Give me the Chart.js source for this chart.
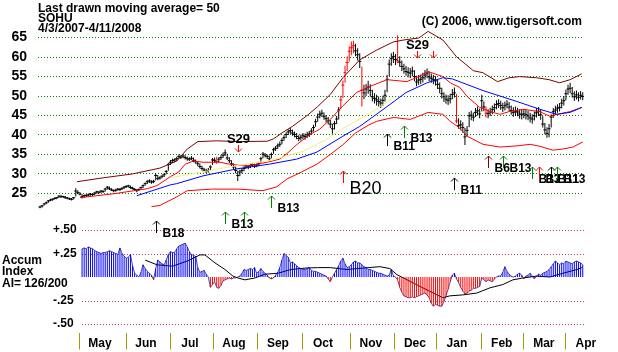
<!DOCTYPE html>
<html>
<head>
<meta charset="utf-8">
<script src="https://cdn.jsdelivr.net/npm/chart.js@4.4.0/dist/chart.umd.min.js"></script>
<style>
  body { margin: 0; background: #fff; }
  #wrap { width: 618px; height: 352px; }
</style>
</head>
<body>
<div id="wrap"><canvas id="sohuChart" width="618" height="352"></canvas></div>
<script>
// SOHU daily bars, 4/3/2007 - 4/11/2008, one value per trading day (index 0..258)
const closes = [
  21.5, 21.8, 22.3, 22.6, 23.1, 23.3, 23.5, 23.7, 23.9, 24.3,
  24.1, 24.2, 23.9, 23.8, 23.6, 23.5, 23.9, 25.6, 25.2, 24.8,
  24.2, 24.4, 24.5, 24.6, 24.8, 24.7, 25.1, 25.4, 25.3, 25.6,
  25.5, 26.1, 26.6, 26.2, 25.9, 25.7, 25.8, 26.1, 26.0, 26.3,
  26.6, 26.8, 26.9, 26.5, 26.3, 26.0, 25.7, 26.0, 26.5, 27.0,
  27.5, 28.0, 28.2, 27.9, 28.1, 29.6, 28.8, 29.0, 29.4, 29.8,
  30.6, 32.4, 33.0, 33.4, 33.6, 33.9, 34.5, 34.3, 34.6, 34.2,
  33.9, 33.8, 34.0, 33.5, 33.1, 32.6, 31.9, 31.4, 31.0, 30.7,
  30.9, 31.8, 33.6, 33.5, 33.2, 33.8, 34.2, 34.8, 35.4, 34.1,
  33.4, 32.6, 31.8, 30.9, 29.6, 30.5, 30.9, 31.4, 32.0, 31.8,
  32.1, 32.4, 32.0, 32.3, 32.6, 33.9, 35.1, 34.8, 34.5, 33.9,
  35.0, 36.2, 36.6, 37.2, 37.6, 38.6, 39.3, 40.1, 40.8, 41.1,
  40.5, 40.1, 39.6, 39.1, 39.4, 39.8, 39.6, 40.0, 40.3, 41.0,
  41.9, 43.4, 44.6, 45.3, 45.6, 44.7, 44.2, 43.6, 42.8, 41.6,
  42.9, 44.1, 46.4, 49.0, 52.8, 56.0, 58.6, 61.5, 62.4, 62.9,
  61.6, 60.6, 58.9, 51.5, 50.8, 51.8, 52.3, 51.4, 49.8, 49.4,
  49.0, 48.6, 48.2, 48.9, 50.2, 54.3, 58.2, 59.6, 60.1, 59.4,
  59.0, 58.7, 57.6, 57.0, 56.3, 56.1, 55.9, 56.4, 55.0, 53.6,
  54.1, 54.3, 54.7, 55.4, 55.9, 54.9, 54.6, 54.2, 53.9, 53.0,
  52.0, 50.6, 49.8, 49.2, 48.9, 49.3, 50.4, 50.8, 43.6, 42.4,
  42.6, 41.9, 39.5, 41.2, 44.9, 45.1, 44.6, 45.8, 46.2, 45.4,
  48.8, 47.2, 45.6, 45.5, 45.9, 46.5, 47.0, 47.8, 48.1, 47.6,
  47.0, 47.5, 47.9, 47.2, 46.3, 45.8, 46.1, 45.9, 45.4, 45.2,
  45.4, 45.2, 44.9, 44.4, 44.1, 44.9, 45.7, 46.1, 45.2, 42.8,
  41.3, 40.4, 41.6, 44.6, 46.0, 46.4, 46.9, 47.1, 48.2, 48.8,
  50.6, 51.8, 52.0, 50.6, 49.8, 50.3, 49.7, 50.2, 49.9
];
const highs = [
  21.8, 22.0, 22.5, 22.9, 23.3, 23.6, 23.7, 24.0, 24.1, 24.5,
  24.6, 24.4, 24.3, 24.1, 23.9, 23.8, 24.1, 26.3, 25.8, 25.3,
  24.8, 24.7, 24.8, 25.0, 25.1, 25.0, 25.3, 25.7, 25.6, 25.9,
  25.8, 26.4, 26.9, 26.8, 26.3, 26.0, 26.2, 26.4, 26.4, 26.6,
  26.9, 27.1, 27.2, 27.0, 26.7, 26.4, 26.1, 26.3, 26.8, 27.3,
  27.8, 28.4, 28.6, 28.4, 28.5, 30.2, 29.7, 29.4, 29.8, 30.2,
  31.0, 32.9, 33.6, 33.9, 34.0, 34.4, 35.0, 34.9, 35.1, 34.8,
  34.5, 34.3, 34.6, 34.2, 33.7, 33.3, 32.7, 32.1, 31.6, 31.3,
  31.5, 32.2, 34.1, 34.2, 34.4, 34.3, 34.8, 35.5, 36.3, 35.2,
  34.3, 33.5, 32.7, 31.9, 30.8, 31.1, 31.5, 31.9, 32.4, 32.3,
  32.6, 32.8, 32.6, 32.7, 33.1, 34.4, 35.6, 35.4, 35.0, 34.7,
  35.5, 36.7, 37.2, 37.8, 38.3, 39.2, 39.9, 40.7, 41.5, 41.8,
  41.4, 40.9, 40.5, 39.9, 40.1, 40.5, 40.4, 40.8, 41.0, 41.7,
  42.6, 44.2, 45.5, 46.2, 46.5, 45.8, 45.1, 44.6, 43.9, 42.9,
  43.6, 44.9, 47.2, 50.1, 54.0, 57.8, 60.2, 62.8, 64.0, 64.2,
  63.4, 62.3, 61.0, 57.5, 52.9, 53.1, 53.9, 53.0, 51.6, 50.7,
  50.3, 49.9, 49.4, 50.1, 51.6, 55.4, 59.4, 61.0, 61.4, 60.8,
  65.6, 60.2, 59.1, 58.3, 57.8, 57.4, 57.2, 57.6, 56.6, 55.2,
  55.4, 55.5, 56.0, 56.7, 57.1, 56.3, 55.8, 55.4, 55.1, 54.4,
  53.5, 52.1, 51.0, 50.4, 50.2, 50.6, 51.8, 52.2, 50.5, 44.3,
  43.8, 43.3, 41.8, 42.3, 45.9, 46.2, 45.8, 46.9, 47.3, 46.8,
  50.3, 48.6, 47.3, 46.6, 47.0, 47.6, 48.1, 48.9, 49.2, 48.8,
  48.3, 48.6, 49.0, 48.5, 47.6, 47.1, 47.3, 47.0, 46.6, 46.4,
  46.6, 46.5, 46.2, 45.7, 45.3, 46.0, 46.9, 47.2, 46.6, 44.8,
  43.1, 42.0, 42.8, 45.3, 46.9, 47.5, 47.9, 48.2, 49.3, 50.0,
  51.6, 52.9, 53.4, 52.3, 51.2, 51.4, 51.0, 51.3, 51.0
];
const lows = [
  21.2, 21.4, 21.9, 22.2, 22.6, 23.0, 23.1, 23.4, 23.5, 23.8,
  23.9, 23.8, 23.6, 23.5, 23.3, 23.2, 23.4, 24.2, 24.8, 24.5,
  23.7, 23.9, 24.1, 24.2, 24.4, 24.3, 24.6, 24.9, 24.9, 25.1,
  25.1, 25.5, 26.0, 25.9, 25.6, 25.3, 25.4, 25.7, 25.6, 25.9,
  26.1, 26.4, 26.5, 26.2, 26.0, 25.6, 25.3, 25.6, 26.0, 26.4,
  27.0, 27.4, 27.7, 27.5, 27.6, 28.3, 28.4, 28.5, 28.9, 29.2,
  29.9, 30.8, 32.3, 32.8, 33.0, 33.3, 33.8, 33.8, 34.0, 33.7,
  33.4, 33.3, 33.5, 33.0, 32.6, 32.0, 31.4, 30.9, 30.4, 30.2,
  30.3, 30.9, 32.3, 32.9, 32.6, 33.0, 33.6, 34.1, 34.6, 33.6,
  32.8, 32.0, 31.1, 30.2, 28.2, 29.4, 30.1, 30.7, 31.3, 31.2,
  31.5, 31.8, 31.5, 31.7, 32.0, 32.8, 34.0, 34.2, 33.8, 33.3,
  34.0, 35.2, 35.9, 36.4, 36.9, 37.6, 38.5, 39.2, 40.0, 40.3,
  39.8, 39.4, 38.9, 38.4, 38.6, 39.0, 38.8, 39.2, 39.5, 40.1,
  40.9, 42.1, 43.4, 44.3, 44.6, 43.9, 43.2, 42.7, 41.8, 40.3,
  41.4, 42.8, 44.0, 46.8, 49.5, 53.4, 56.4, 58.9, 60.5, 61.0,
  60.2, 59.1, 57.2, 47.3, 49.2, 50.0, 50.6, 49.8, 48.6, 48.1,
  47.6, 47.3, 46.9, 47.5, 48.6, 51.0, 55.1, 57.8, 58.5, 58.0,
  58.4, 57.5, 56.4, 55.7, 55.2, 54.8, 54.6, 55.1, 53.8, 52.5,
  52.9, 53.1, 53.5, 54.2, 54.6, 53.8, 53.4, 53.0, 52.7, 51.8,
  50.7, 49.4, 48.5, 48.0, 47.7, 48.1, 49.2, 49.6, 43.0, 41.6,
  41.2, 40.6, 37.4, 39.6, 42.0, 43.8, 43.5, 44.6, 45.0, 44.3,
  46.0, 46.1, 44.5, 44.3, 44.8, 45.3, 45.9, 46.6, 46.9, 46.5,
  45.9, 46.3, 46.8, 46.1, 45.2, 44.7, 44.9, 44.8, 44.2, 44.0,
  44.3, 44.0, 43.8, 43.2, 42.9, 43.7, 44.5, 44.9, 43.9, 41.9,
  40.2, 39.3, 39.4, 41.9, 44.4, 45.2, 45.7, 46.0, 46.8, 47.6,
  48.9, 50.3, 50.8, 49.6, 48.7, 49.1, 48.6, 49.1, 48.9
];
// days whose bar is drawn in red
const redDays = [84, 143, 144, 145, 146, 147, 148, 149, 153, 170, 198, 212];

// overlays as [trading day, price]
const upperBand = [[17.6, 28.0], [30, 29.0], [44, 30.0], [57, 31.5], [65, 33.3], [70, 36.4], [75, 38.3],
  [84, 38.5], [95, 38.3], [108, 38.4], [111, 39.0], [115.5, 40.7], [120, 42.2], [127, 45.0], [132, 47.3],
  [138, 50.4], [144, 54.7], [152, 59.3], [160, 61.8], [168, 63.9], [173, 64.4], [180, 64.9], [184.5, 66.6],
  [191.5, 64.4], [198, 60.1], [206, 56.5], [210.5, 56.0], [217.5, 53.7], [223, 54.7], [228, 55.0],
  [236, 54.7], [242, 54.2], [247, 53.4], [252, 54.2], [257.5, 55.7]];
const midLine = [[19, 23.9], [35, 24.9], [51, 26.2], [55.6, 27.0], [62, 29.3], [66, 30.5], [69, 32.5],
  [73, 33.3], [77.5, 33.0], [85.5, 33.0], [90, 32.5], [98.4, 32.0], [103, 32.5], [108, 33.0], [114, 33.8],
  [118, 35.5], [122, 37.5], [128, 40.0], [133, 41.5], [138, 44.0], [144, 47.5], [150.7, 51.0], [157, 52.5],
  [165, 54.2], [174.4, 53.7], [180, 55.0], [184.4, 56.3], [191.5, 55.0], [195, 53.4], [199.6, 52.2],
  [203, 49.9], [209, 47.1], [214, 46.0], [218.6, 45.3], [223, 46.0], [229.6, 46.6], [237.6, 46.0],
  [242.4, 44.8], [245.7, 45.3], [252, 46.0], [257.6, 47.1]];
const lowerBand = [[53, 21.6], [57, 21.9], [65, 24.1], [70, 25.7], [82, 26.1], [94, 26.1], [106, 25.7],
  [112.6, 26.7], [117.4, 28.7], [123.6, 30.3], [131.6, 32.5], [138, 35.0], [144, 37.5], [150, 40.5],
  [156, 42.5], [160, 43.5], [168, 44.5], [176, 44.0], [184.5, 45.8], [191.5, 45.3], [195, 43.5], [199, 42.0],
  [203, 39.7], [210.6, 37.6], [218.6, 36.9], [226.7, 37.2], [233, 37.6], [237.6, 37.1], [243.8, 36.1],
  [248.6, 36.4], [253.3, 36.9], [258, 38.2]];
const ma50 = [[46, 24.4], [62, 27.2], [65, 27.5], [77.5, 29.5], [93.6, 31.3], [109, 32.5], [122, 33.8],
  [131.6, 35.6], [144, 39.7], [152, 42.2], [165, 47.3], [174, 50.9], [184, 53.4], [191.5, 54.7],
  [196, 54.4], [210.6, 51.4], [226.7, 48.6], [237.6, 46.6], [245.7, 45.3], [252, 45.8], [257.6, 47.1]];
const yellowLine = [[62, 29.0], [90, 31.8], [110, 33.5], [125, 35.8], [135, 38.5], [145, 42.0], [155, 45.0], [168, 49.5]];

// Accumulation Index, from day 20 on
const accumStart = 20;
const accum = [
  0.30, 0.31, 0.30, 0.32, 0.31, 0.30, 0.28, 0.27, 0.26, 0.25,
  0.26, 0.26, 0.27, 0.28, 0.27, 0.26, 0.25, 0.24, 0.31, 0.25,
  0.22, 0.20, 0.21, 0.24, 0.12, 0.04, 0.02, 0.00, 0.05, 0.13,
  0.09, 0.06, 0.04, 0.02, -0.03, 0.09, 0.18, 0.16, 0.14, 0.13,
  0.18, 0.24, 0.27, 0.26, 0.26, 0.30, 0.33, 0.34, 0.35, 0.36,
  0.32, 0.27, 0.24, 0.23, 0.22, 0.10, 0.05, 0.06, 0.07, 0.03,
  0.00, -0.11, -0.08, -0.05, -0.11, -0.12, -0.09, -0.04, -0.03, -0.02,
  -0.01, -0.02, -0.01, -0.01, 0.00, 0.01, 0.04, 0.08, 0.07, 0.08,
  0.09, 0.08, 0.10, 0.04, 0.06, 0.09, 0.06, 0.04, 0.02, -0.01,
  -0.02, -0.01, 0.02, 0.05, 0.10, 0.18, 0.25, 0.23, 0.21, 0.15,
  0.16, 0.14, 0.12, 0.10, 0.09, 0.08, 0.08, 0.09, 0.10, 0.07,
  0.06, 0.06, 0.05, 0.04, 0.03, 0.02, 0.01, -0.02, -0.05, 0.00,
  0.04, 0.08, 0.12, 0.17, 0.20, 0.14, 0.10, 0.11, 0.13, 0.16,
  0.17, 0.15, 0.15, 0.13, 0.11, 0.10, 0.08, 0.08, 0.07, 0.06,
  0.05, 0.04, 0.04, 0.03, 0.02, 0.01, 0.02, 0.08, 0.01, 0.00,
  -0.03, -0.11, -0.16, -0.20, -0.21, -0.22, -0.22, -0.21, -0.22, -0.21,
  -0.20, -0.19, -0.18, -0.17, -0.19, -0.22, -0.28, -0.31, -0.29, -0.30,
  -0.31, -0.31, -0.26, -0.20, -0.13, -0.05, 0.02, 0.04, -0.02, -0.06,
  -0.11, -0.15, -0.18, -0.17, -0.15, -0.14, -0.12, -0.12, -0.11, -0.10,
  -0.01, -0.03, -0.05, -0.03, -0.04, -0.05, -0.02, 0.00, 0.01, 0.01,
  0.05, 0.11, 0.06, 0.03, 0.01, 0.00, 0.01, 0.03, 0.04, 0.02,
  -0.02, 0.01, 0.02, 0.04, 0.01, -0.02, 0.01, 0.03, 0.02, 0.04,
  0.05, 0.06, 0.08, 0.11, 0.14, 0.17, 0.15, 0.13, 0.15, 0.14,
  0.17, 0.16, 0.15, 0.14, 0.16, 0.17, 0.16, 0.15, 0.13
];
const accumMA = [[50, 0.18], [55.6, 0.13], [63, 0.115], [70, 0.17], [76, 0.235], [78.4, 0.235], [83.2, 0.15],
  [87.9, 0.08], [91.7, 0.01], [94.1, -0.01], [97.4, -0.03], [102.2, -0.01], [106.9, 0.03], [113, 0.04],
  [119.3, 0.08], [126, 0.095], [132, 0.10], [138, 0.10], [145.9, 0.08], [153.5, 0.095], [161.6, 0.11],
  [166.3, 0.09], [169.7, 0.025], [175.9, -0.046], [182, -0.115], [188.7, -0.19], [191.5, -0.22],
  [194.9, -0.20], [201, -0.19], [207.7, -0.17], [213.9, -0.115], [220, -0.08], [224.8, -0.03],
  [229.6, -0.01], [236.2, 0.01], [242.4, 0.0], [248.6, 0.04], [255.2, 0.08], [257.6, 0.10]];

// signals: trading day, arrow tip price, label, direction (1 = buy up, -1 = sell down)
const sigDay   = [94, 88, 97, 110, 55, 144, 165, 173, 179, 187, 197, 213, 220, 234, 237, 243, 246];
const sigLevel = [35.6, 20.3, 20.3, 24.4, 17.8, 30.8, 40.2, 42.2, 59.8, 59.8, 29.0, 34.6, 34.6, 31.8, 31.8, 31.8, 31.8];
const sigLabel = ['S29', 'B13', '', 'B13', 'B18', 'B20', 'B11', 'B13', 'S29', '', 'B11', 'B6', 'B13', 'B13', 'B7', 'B11', 'B13'];
const sigDir   = [-1, 1, 1, 1, 1, 1, 1, 1, -1, -1, 1, 1, 1, 1, 1, 1, 1];

const monthTicks  = [19, 40.9, 61.8, 82.7, 103.6, 125, 147.8, 168.7, 188.7, 210, 230, 250];
const monthLabels = ['May', 'Jun', 'Jul', 'Aug', 'Sep', 'Oct', 'Nov', 'Dec', 'Jan', 'Feb', 'Mar', 'Apr'];
const priceTicks  = [25, 30, 35, 40, 45, 50, 55, 60, 65];
const accumTicks  = [0.5, 0.25, -0.25, -0.5];
const accumTickLabels = ['+.50', '+.25', '-.25', '-.50'];

const FONT = '"Liberation Sans", Arial, sans-serif';
Chart.defaults.font.family = FONT;
Chart.defaults.color = '#000';

const sigColors = { S29: '#ff0000', B13: '#008000', B18: '#000000', B20: '#ff0000', B11: '#000000', B6: '#800000', B7: '#ff0000' };

function pts(arr) { return arr.map(p => ({ x: p[0], y: p[1] })); }
const days = closes.map((c, i) => i);
const barColor = days.map(d => redDays.includes(d) ? '#ff0000' : '#000000');

const decorations = {
  id: 'decorations',
  beforeDatasetsDraw(chart) {
    const { ctx, chartArea, scales: { x, y2 } } = chart;
    ctx.save();
    ctx.strokeStyle = '#b03080';
    ctx.lineWidth = 1;
    ctx.setLineDash([1, 2]);
    const left = x.getPixelForValue(monthTicks[0]) + 2;
    accumTicks.forEach(v => {
      const py = Math.round(y2.getPixelForValue(v)) + 0.5;
      ctx.beginPath();
      ctx.moveTo(left, py);
      ctx.lineTo(chartArea.right, py);
      ctx.stroke();
    });
    ctx.setLineDash([]);
    ctx.fillStyle = '#000';
    ctx.font = 'bold 12px ' + FONT;
    ctx.textAlign = 'left';
    ctx.textBaseline = 'middle';
    accumTicks.forEach((v, i) => ctx.fillText(accumTickLabels[i], 53, y2.getPixelForValue(v)));
    ctx.restore();
  },
  afterDraw(chart) {
    const { ctx, chartArea, scales: { x, y } } = chart;
    ctx.save();
    ctx.fillStyle = '#000';
    ctx.font = 'bold 12px ' + FONT;
    ctx.textBaseline = 'alphabetic';
    ctx.textAlign = 'left';
    ctx.fillText('Last drawn moving average= 50', chartArea.left, 12);
    ctx.fillText('SOHU', chartArea.left, 22);
    ctx.fillText('4/3/2007-4/11/2008', chartArea.left, 32);
    ctx.textAlign = 'right';
    ctx.fillText('(C) 2006, www.tigersoft.com', 582, 25);
    ctx.textAlign = 'left';
    ctx.fillText('Accum', 2, 264);
    ctx.fillText('Index', 2, 275);
    ctx.fillText('AI= 126/200', 2, 287);

    // signal arrows
    sigDay.forEach((d, i) => {
      const px = Math.round(x.getPixelForValue(d)) + 0.5;
      const py = Math.round(y.getPixelForValue(sigLevel[i]));
      const lab = sigLabel[i] || sigLabel[i - 1];
      ctx.strokeStyle = sigColors[lab];
      ctx.lineWidth = 1;
      ctx.beginPath();
      if (sigDir[i] > 0) {
        ctx.moveTo(px, py); ctx.lineTo(px, py + 12);
        ctx.moveTo(px - 3.5, py + 3.5); ctx.lineTo(px, py); ctx.lineTo(px + 3.5, py + 3.5);
      } else {
        ctx.moveTo(px, py - 7); ctx.lineTo(px, py);
        ctx.moveTo(px - 3.5, py - 3.5); ctx.lineTo(px, py); ctx.lineTo(px + 3.5, py - 3.5);
      }
      ctx.stroke();
      if (!sigLabel[i]) return;
      ctx.fillStyle = '#000';
      if (sigDir[i] > 0) {
        ctx.textAlign = 'left';
        if (sigLabel[i] === 'B20') {
          ctx.font = '18px ' + FONT;
          ctx.fillText(sigLabel[i], px + 6, py + 23);
        } else {
          ctx.font = 'bold 12px ' + FONT;
          ctx.fillText(sigLabel[i], px + 6, py + 16);
        }
      } else {
        ctx.font = 'bold 13px ' + FONT;
        ctx.textAlign = 'center';
        ctx.fillText(sigLabel[i], px, py - 9);
      }
    });
    ctx.restore();
  }
};

new Chart(document.getElementById('sohuChart'), {
  type: 'bar',
  data: {
    datasets: [
      { type: 'line', label: 'upper', data: pts(upperBand), borderColor: '#800000', borderWidth: 1, pointRadius: 0, yAxisID: 'y' },
      { type: 'line', label: 'yellow', data: pts(yellowLine), borderColor: '#f0f080', borderWidth: 1, pointRadius: 0, yAxisID: 'y' },
      { type: 'line', label: 'ma50', data: pts(ma50), borderColor: '#0000ff', borderWidth: 1, pointRadius: 0, yAxisID: 'y' },
      { type: 'line', label: 'mid', data: pts(midLine), borderColor: '#ff0000', borderWidth: 1, pointRadius: 0, yAxisID: 'y' },
      { type: 'line', label: 'lower', data: pts(lowerBand), borderColor: '#ff0000', borderWidth: 1, pointRadius: 0, yAxisID: 'y' },
      {
        type: 'bar', label: 'range', yAxisID: 'y', grouped: false,
        data: days.map(d => ({ x: d, y: [lows[d], highs[d]] })),
        backgroundColor: barColor, barThickness: 1, borderWidth: 0, inflateAmount: 0
      },
      {
        type: 'line', label: 'close', yAxisID: 'y', showLine: false,
        data: days.map(d => ({ x: d, y: closes[d] })),
        pointStyle: 'line', pointRadius: 1.5, pointBorderWidth: 1, pointBorderColor: barColor, pointHoverRadius: 0
      },
      {
        type: 'bar', label: 'accum', yAxisID: 'y2', grouped: false,
        data: accum.map((v, k) => ({ x: k + accumStart, y: v })),
        backgroundColor: accum.map(v => v >= 0 ? '#0000ff' : '#ff0000'), barThickness: 1, borderWidth: 0, inflateAmount: 0
      },
      {
        type: 'line', label: 'accumLine', yAxisID: 'y2',
        data: accum.map((v, k) => ({ x: k + accumStart, y: v })),
        borderColor: '#000060', borderWidth: 0.7, pointRadius: 0
      },
      { type: 'line', label: 'accumMA', yAxisID: 'y2', data: pts(accumMA), borderColor: '#000000', borderWidth: 1, pointRadius: 0 }
    ]
  },
  options: {
    responsive: false,
    animation: false,
    devicePixelRatio: 1,
    layout: { padding: { top: 30, right: 34, left: 0, bottom: 0 } },
    plugins: { legend: { display: false }, tooltip: { enabled: false } },
    scales: {
      x: {
        type: 'linear', position: 'bottom', min: -0.95, max: 258.6, offset: false,
        grid: { offset: false, drawOnChartArea: false, drawTicks: true, tickLength: 17, color: '#a0a000' },
        border: { display: false },
        afterBuildTicks: s => { s.ticks = monthTicks.map(v => ({ value: v })); },
        afterFit: s => { s.height = 17; },
        ticks: {
          autoSkip: false, maxRotation: 0, padding: -13, labelOffset: 20,
          font: { size: 12, weight: 'bold' },
          callback: v => monthLabels[monthTicks.indexOf(v)]
        }
      },
      y: {
        type: 'linear', position: 'left', min: -10.75, max: 66.96,
        grid: { color: '#008000', drawTicks: false },
        border: { display: false, dash: [1, 2] },
        afterBuildTicks: s => { s.ticks = priceTicks.map(v => ({ value: v })); },
        afterFit: s => { s.width = 38; },
        ticks: { padding: 11, font: { size: 14, weight: 'bold' } }
      },
      y2: { type: 'linear', position: 'left', display: false, min: -0.591, max: 2.627 }
    }
  },
  plugins: [decorations]
});
</script>
</body>
</html>
